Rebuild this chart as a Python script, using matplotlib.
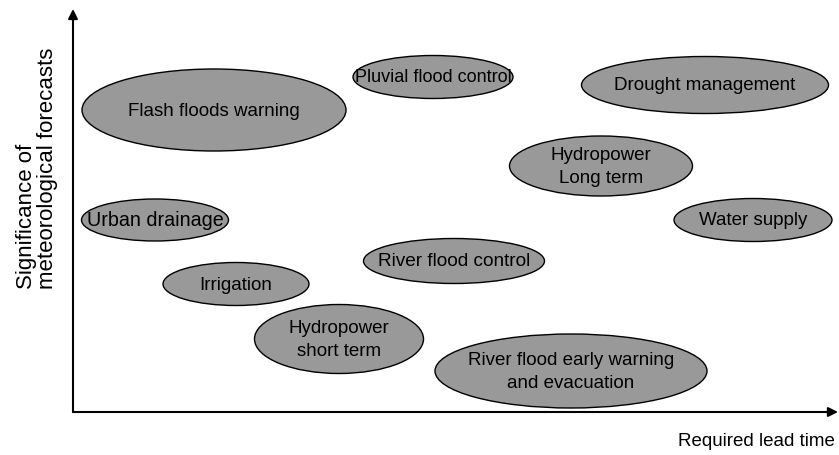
import matplotlib
matplotlib.use("Agg")
import matplotlib.pyplot as plt
from matplotlib.patches import Ellipse

plt.rcParams['font.family'] = ['Liberation Sans', 'DejaVu Sans']

# Data (arbitrary units: x = required lead time, y = significance of forecasts)
labels = ["Flash floods warning", "Pluvial flood control", "Drought management",
          "Hydropower\nLong term", "Urban drainage", "Water supply", "Irrigation",
          "River flood control", "Hydropower\nshort term",
          "River flood early warning\nand evacuation"]
x_center = [141, 360, 632, 528, 82, 680, 163, 381, 266, 498]
y_center = [302, 335, 327, 246, 192, 192, 128, 151, 73, 41]
widths = [264, 160, 247, 183, 147, 158, 146, 181, 169, 272]
heights = [82, 43, 57, 60, 42, 43, 43, 45, 69, 74]
font_sizes = [13.5, 13.0, 13.5, 13.5, 14.2, 13.5, 13.5, 13.7, 13.5, 13.5]

W, H = 839, 456
fig = plt.figure(figsize=(W / 100, H / 100), dpi=100)
x0, y0 = 73, 413
ax = fig.add_axes([x0 / W, (H - y0) / H, (W - x0) / W, y0 / H])
ax.set_xlim(0, W - x0)
ax.set_ylim(0, y0)
ax.axis('off')

for lab, xc, yc, w, h, fs in zip(labels, x_center, y_center, widths, heights, font_sizes):
    ax.add_patch(Ellipse((xc, yc), w, h, facecolor='#999999', edgecolor='black', linewidth=1.0))
    ax.text(xc, yc, lab, ha='center', va='center', fontsize=fs, color='black', linespacing=1.45)

# axes arrows
ax.annotate('', xy=(W - x0 - 1, 0), xytext=(0, 0),
            arrowprops=dict(arrowstyle='-|>', color='black', lw=1.5, mutation_scale=14, shrinkA=0, shrinkB=0),
            annotation_clip=False)
ax.annotate('', xy=(0, y0 - 10), xytext=(0, 0),
            arrowprops=dict(arrowstyle='-|>', color='black', lw=1.5, mutation_scale=14, shrinkA=0, shrinkB=0),
            annotation_clip=False)

fig.text(835 / W, 1 - 442 / H, "Required lead time", ha='right', va='center', fontsize=13.5)
fig.text(37 / W, 1 - 289 / H, "Significance of\nmeteorological forecasts", ha='left', va='center',
         rotation=90, rotation_mode='anchor', multialignment='left', fontsize=16, linespacing=1.0)

fig.savefig("out.png", dpi=100)
